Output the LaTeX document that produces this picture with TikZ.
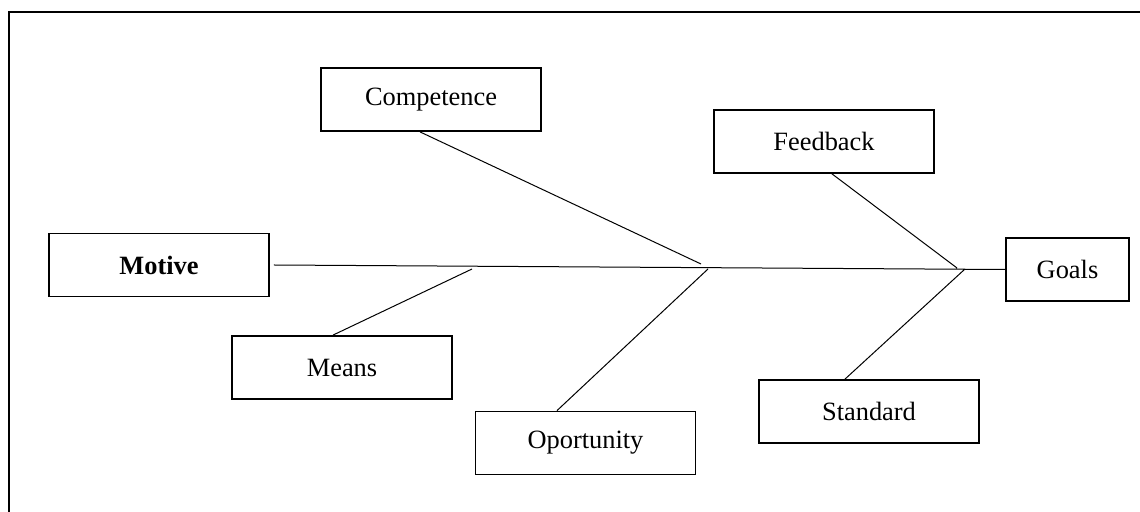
\documentclass[tikz,border=0pt]{standalone}
\usepackage{fontspec}
\setmainfont{Liberation Serif}
\usetikzlibrary{positioning}

\begin{document}
\begin{tikzpicture}[x=0.5pt,y=-0.5pt,font=\fontsize{13.2}{15}\selectfont,
		box/.style={draw,line width=0.9pt,minimum width=110pt,minimum height=31.5pt,inner sep=0pt},
		bone/.style={line width=0.5pt}]
		\useasboundingbox (0,0) rectangle (1140,512);
		\clip (0,0) rectangle (1140,512);
		\draw[line width=1pt] (8.5,12.5) rectangle (1160,530);
		% boxes
		\node[box] (motive) at (159,265) {\textbf{Motive}};
		\node[box] (competence) at (431,99.5) {Competence};
		\node[box] (means) at (342,367.5) {Means};
		\node[box] (oportunity) at (585.5,443) {Oportunity};
		\node[box] (feedback) at (824,141.5) {Feedback};
		\node[box] (standard) at (869,411.5) {Standard};
		\node[box,minimum width=61.5pt] (goals) at (1067.5,269.5) {Goals};
		% joints on the spine
		\coordinate (j_1) at (472,269);
		\coordinate (j_2) at (701,264);
		\coordinate (j_3) at (708,269);
		\coordinate (j_4) at (957,268);
		\coordinate (j_5) at (965,269);
		\path[bone,draw]
			([xshift=2pt]motive.east) -- (goals.west)
			([xshift=-5.5pt]competence.south) -- (j_2)
			([xshift=-4.5pt]means.north) -- (j_1)
			([xshift=-14.25pt]oportunity.north) -- (j_3)
			([xshift=4pt]feedback.south) -- (j_4)
			([xshift=-12pt]standard.north) -- (j_5);
	\end{tikzpicture}
\end{document}
